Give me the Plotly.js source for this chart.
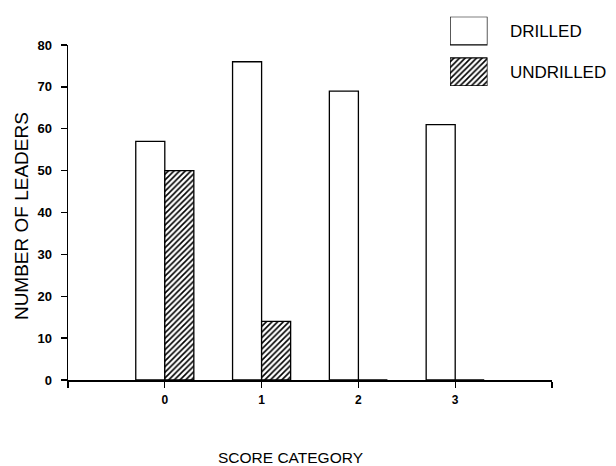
<!DOCTYPE html>
<html>
<head>
<meta charset="utf-8">
<script src="https://cdn.plot.ly/plotly-3.0.1.min.js"></script>
<style>html,body{margin:0;padding:0;background:#fff;}#chart{width:616px;height:466px;}</style>
</head>
<body>
<div id="chart"></div>
<script>
// ---- data ----
const categories = [0, 1, 2, 3];
const xTickLabels = ['0', '1', '2', '3'];
const drilled = [57, 76, 69, 61];
const undrilled = [50, 14, 0, 0];
const yTicks = [0, 10, 20, 30, 40, 50, 60, 70, 80];
const seriesNames = ['DRILLED', 'UNDRILLED'];
const xTitle = 'SCORE CATEGORY';
const yTitle = 'NUMBER OF LEADERS';

// ---- styles ----
const FONT = 'Liberation Sans, Arial, sans-serif';
const lineStyle = {color: '#000', width: 1.3};
const drilledMarker = {color: '#fff', line: lineStyle};
const undrilledMarker = {
  color: '#fff', line: lineStyle,
  pattern: {shape: '/', fgcolor: '#000', bgcolor: '#fff', size: 4, solidity: 0.4}
};

const traces = [
  {type: 'bar', x: categories, y: drilled, name: seriesNames[0], marker: drilledMarker,
   offset: -0.3, width: 0.3, showlegend: false, hoverinfo: 'skip'},
  {type: 'bar', x: categories, y: undrilled, name: seriesNames[1], marker: undrilledMarker,
   offset: 0, width: 0.3, showlegend: false, hoverinfo: 'skip'},
  // legend swatches drawn on a small helper subplot
  {type: 'bar', orientation: 'h', y: [seriesNames[0]], x: [1], xaxis: 'x2', yaxis: 'y2',
   marker: drilledMarker, width: 0.683, showlegend: false, hoverinfo: 'skip'},
  {type: 'bar', orientation: 'h', y: [seriesNames[1]], x: [1], xaxis: 'x2', yaxis: 'y2',
   marker: undrilledMarker, width: 0.683, showlegend: false, hoverinfo: 'skip'}
];

const xTickVals = [-1].concat(categories, [4]);
const xTickText = [''].concat(xTickLabels, ['']);

const layout = {
  width: 616, height: 466,
  margin: {l: 68, r: 64, t: 10, b: 86},
  paper_bgcolor: '#fff', plot_bgcolor: '#fff',
  font: {family: FONT, color: '#000'},
  barmode: 'group',
  xaxis: {
    range: [-1, 4], tickmode: 'array', tickvals: xTickVals, ticktext: xTickText,
    showline: true, linecolor: '#000', linewidth: 1.5,
    ticks: 'outside', ticklen: 6, tickwidth: 1.3, tickcolor: '#000',
    showgrid: false, zeroline: false,
    tickfont: {family: FONT, size: 12, weight: 'bold', color: '#000'},
    ticklabelstandoff: 2
  },
  yaxis: {
    domain: [0, 0.9054],
    range: [0, 80], tickmode: 'array', tickvals: yTicks,
    showline: true, linecolor: '#000', linewidth: 1.5,
    ticks: 'outside', ticklen: 6, tickwidth: 1.3, tickcolor: '#000',
    showgrid: false, zeroline: false,
    tickfont: {family: FONT, size: 13, weight: 'bold', color: '#000'},
    ticklabelstandoff: 6
  },
  xaxis2: {domain: [0.7893, 0.8667], range: [0, 1], visible: false, anchor: 'y2', fixedrange: true},
  yaxis2: {
    domain: [0.7946, 0.9819], anchor: 'x2', side: 'right',
    type: 'category', categoryarray: seriesNames, range: [1.3415, -0.3415],
    showline: false, showgrid: false, zeroline: false,
    ticks: 'outside', ticklen: 18, tickcolor: 'rgba(0,0,0,0)',
    tickfont: {family: FONT, size: 17, color: '#000'}
  },
  annotations: [
    {text: yTitle, xref: 'paper', yref: 'paper', x: -0.0971, y: 0.443,
     xanchor: 'center', yanchor: 'middle', textangle: -90, showarrow: false,
     font: {family: FONT, size: 19, color: '#000'}},
    {text: xTitle, xref: 'paper', yref: 'paper', x: 0.4607, y: -0.2108,
     xanchor: 'center', yanchor: 'middle', showarrow: false,
     font: {family: FONT, size: 15.5, color: '#000'}}
  ]
};

Plotly.newPlot('chart', traces, layout, {displayModeBar: false, staticPlot: true});
</script>
</body>
</html>
